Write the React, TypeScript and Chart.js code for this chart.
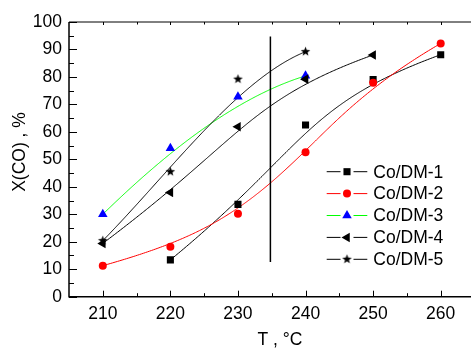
import React, { useEffect, useRef } from "react";
import { Chart, registerables } from "chart.js";
import { drawPoint } from "chart.js/helpers";

Chart.register(...registerables);

// Axis ticks
const X_TICKS = [210, 220, 230, 240, 250, 260];
const X_MINOR = [215, 225, 235, 245, 255];
const Y_TICKS = [0, 10, 20, 30, 40, 50, 60, 70, 80, 90, 100];
const Y_MINOR = [5, 15, 25, 35, 45, 55, 65, 75, 85, 95];

// Series: temperature (°C) and CO conversion (%)
const SERIES_NAMES = ["Co/DM-1", "Co/DM-2", "Co/DM-3", "Co/DM-4", "Co/DM-5"];
const T_DM1 = [220, 230, 240, 250, 260];
const X_DM1 = [13.4, 33.6, 62.5, 79.1, 88.1];
const T_DM2 = [210, 220, 230, 240, 250, 260];
const X_DM2 = [11.3, 18.2, 30.2, 52.6, 77.9, 92.2];
const T_DM3 = [210, 220, 230, 240];
const X_DM3 = [30.0, 54.0, 72.8, 80.4];
const T_DM4 = [210, 220, 230, 240, 250];
const X_DM4 = [19.4, 37.9, 61.9, 79.2, 88.0];
const T_DM5 = [210, 220, 230, 240];
const X_DM5 = [20.4, 45.5, 79.2, 89.2];

// Vertical marker line
const CUT_T = [234.8, 234.8];
const CUT_X = [12.6, 94.7];

const FONT = "'Liberation Sans', Arial, Helvetica, sans-serif";
const FONT_SIZE = 17.5;

const LINE_COLORS = ["#000000", "#ff0000", "#00ff00", "#000000", "#000000"];
const MARK_COLORS = ["#000000", "#ff0000", "#0000ff", "#000000", "#000000"];

function makeStar(): HTMLCanvasElement {
  const c = document.createElement("canvas");
  c.width = 11;
  c.height = 11;
  const g = c.getContext("2d")!;
  g.beginPath();
  for (let i = 0; i < 10; i++) {
    const a = -Math.PI / 2 + (i * Math.PI) / 5;
    const r = i % 2 ? 2.1 : 5;
    g.lineTo(5.5 + r * Math.cos(a), 5.5 + r * Math.sin(a));
  }
  g.closePath();
  g.fillStyle = "#000";
  g.fill();
  return c;
}

type P = { x: number; y: number };

// Clamped cubic B-spline using the points as control polygon
function bspline(pts: P[], samples = 240): P[] {
  const n = pts.length;
  const p = Math.min(3, n - 1);
  const m = n + p + 1;
  const knots: number[] = [];
  for (let i = 0; i < m; i++) {
    if (i <= p) knots.push(0);
    else if (i >= n) knots.push(1);
    else knots.push((i - p) / (n - p));
  }
  const out: P[] = [];
  for (let s = 0; s <= samples; s++) {
    const u = s / samples;
    let k = p;
    while (k < n - 1 && u >= knots[k + 1]) k++;
    const d: P[] = [];
    for (let j = 0; j <= p; j++) d.push({ ...pts[j + k - p] });
    for (let r = 1; r <= p; r++) {
      for (let j = p; j >= r; j--) {
        const den = knots[j + 1 + k - r] - knots[j + k - p];
        const a = den === 0 ? 0 : (u - knots[j + k - p]) / den;
        d[j] = { x: (1 - a) * d[j - 1].x + a * d[j].x, y: (1 - a) * d[j - 1].y + a * d[j].y };
      }
    }
    out.push(d[p]);
  }
  return out;
}

const zip = (xs: number[], ys: number[]) => xs.map((x, i) => ({ x, y: ys[i] }));

export default function App() {
  const ref = useRef<HTMLCanvasElement>(null);

  useEffect(() => {
    const star = makeStar();
    const styles: any[] = [
      { pointStyle: "rect", radius: 5, rotation: 0 },
      { pointStyle: "circle", radius: 4, rotation: 0 },
      { pointStyle: "triangle", radius: 5.5, rotation: 0 },
      { pointStyle: "triangle", radius: 5.5, rotation: -90 },
      { pointStyle: star, radius: 5, rotation: 0 },
    ];
    const series = [
      zip(T_DM1, X_DM1),
      zip(T_DM2, X_DM2),
      zip(T_DM3, X_DM3),
      zip(T_DM4, X_DM4),
      zip(T_DM5, X_DM5),
    ];

    const datasets: any[] = series.map((data, i) => ({
      label: SERIES_NAMES[i],
      data,
      showLine: false,
      pointStyle: styles[i].pointStyle,
      pointRadius: styles[i].radius,
      pointRotation: styles[i].rotation,
      pointBackgroundColor: MARK_COLORS[i],
      pointBorderWidth: 0,
      pointBorderColor: MARK_COLORS[i],
      order: 5 - i,
    }));
    datasets.push({
      label: "cut",
      data: zip(CUT_T, CUT_X),
      showLine: true,
      borderColor: "#000",
      borderWidth: 1.5,
      pointRadius: 0,
      order: 10,
    });

    const framePlugin = {
      id: "frame",
      beforeDatasetsDraw(chart: any) {
        const ctx = chart.ctx;
        const { left, right, top, bottom } = chart.chartArea;
        const xs = chart.scales.x;
        const ys = chart.scales.y;
        ctx.save();
        // smoothed curves
        for (let i = 0; i < SERIES_NAMES.length; i++) {
          const meta = chart.getDatasetMeta(i);
          const pts = meta.data.map((e: any) => ({ x: e.x, y: e.y }));
          const curve = bspline(pts);
          ctx.beginPath();
          curve.forEach((q, j) => (j ? ctx.lineTo(q.x, q.y) : ctx.moveTo(q.x, q.y)));
          ctx.strokeStyle = LINE_COLORS[i];
          ctx.lineWidth = 1;
          ctx.stroke();
        }
        // frame
        ctx.strokeStyle = "#000";
        ctx.lineWidth = 1.5;
        ctx.beginPath();
        ctx.moveTo(left, top);
        ctx.lineTo(left, bottom);
        ctx.lineTo(right, bottom);
        ctx.lineTo(right, top);
        ctx.stroke();
        ctx.lineWidth = 1;
        ctx.beginPath();
        ctx.moveTo(left, top);
        ctx.lineTo(right, top);
        ctx.stroke();
        // ticks
        ctx.lineWidth = 1;
        ctx.beginPath();
        X_TICKS.forEach((v) => {
          const px = Math.round(xs.getPixelForValue(v)) + 0.5;
          ctx.moveTo(px, bottom);
          ctx.lineTo(px, bottom - 6);
          ctx.moveTo(px, top);
          ctx.lineTo(px, top + 3);
        });
        X_MINOR.forEach((v) => {
          const px = Math.round(xs.getPixelForValue(v)) + 0.5;
          ctx.moveTo(px, bottom);
          ctx.lineTo(px, bottom - 3.5);
          ctx.moveTo(px, top);
          ctx.lineTo(px, top + 2.5);
        });
        Y_TICKS.forEach((v) => {
          const py = Math.round(ys.getPixelForValue(v)) + 0.5;
          ctx.moveTo(left, py);
          ctx.lineTo(left + 8, py);
        });
        Y_MINOR.forEach((v) => {
          const py = Math.round(ys.getPixelForValue(v)) + 0.5;
          ctx.moveTo(left, py);
          ctx.lineTo(left + 5, py);
        });
        ctx.stroke();
        ctx.restore();
      },
      afterDraw(chart: any) {
        const ctx = chart.ctx;
        ctx.save();
        ctx.fillStyle = "#000";
        ctx.font = `${FONT_SIZE}px ${FONT}`;
        // axis titles
        ctx.textAlign = "center";
        ctx.textBaseline = "middle";
        ctx.fillText("T , °C", 280, 340);
        ctx.translate(20, 152);
        ctx.rotate(-Math.PI / 2);
        ctx.fillText("X(CO) , %", 0, 0);
        ctx.setTransform(1, 0, 0, 1, 0, 0);
        // legend
        const rowY0 = 171.7;
        const rowDy = 21.9;
        for (let i = 0; i < SERIES_NAMES.length; i++) {
          const y = rowY0 + i * rowDy;
          ctx.strokeStyle = LINE_COLORS[i];
          ctx.lineWidth = 1;
          ctx.beginPath();
          ctx.moveTo(326.7, y);
          ctx.lineTo(340.5, y);
          ctx.moveTo(353.5, y);
          ctx.lineTo(367.3, y);
          ctx.stroke();
          ctx.fillStyle = MARK_COLORS[i];
          drawPoint(ctx, { pointStyle: styles[i].pointStyle, rotation: styles[i].rotation, radius: styles[i].radius, borderWidth: 0 } as any, 347, y);
          ctx.fillStyle = "#000";
          ctx.textAlign = "left";
          ctx.textBaseline = "middle";
          ctx.fillText(SERIES_NAMES[i], 373.3, y + 1);
        }
        ctx.restore();
      },
    };

    const chart = new Chart(ref.current!, {
      type: "scatter",
      data: { datasets },
      options: {
        responsive: false,
        maintainAspectRatio: false,
        devicePixelRatio: 1,
        animation: false,
        layout: { padding: { top: 22, left: 0, right: 2.7, bottom: 0 } },
        plugins: { legend: { display: false }, tooltip: { enabled: false } },
        scales: {
          x: {
            type: "linear",
            position: "bottom",
            min: 205,
            max: 265,
            grid: { display: false, drawTicks: false },
            border: { display: false },
            ticks: {
              color: "#000",
              font: { family: FONT, size: FONT_SIZE },
              padding: 7,
              maxRotation: 0,
              autoSkip: false,
              callback: (v: any) => String(v),
            },
            afterBuildTicks: (s: any) => {
              s.ticks = X_TICKS.map((v) => ({ value: v }));
            },
            afterFit: (s: any) => {
              s.height = 52.3;
              s.paddingLeft = 0;
              s.paddingRight = 0;
            },
          },
          y: {
            type: "linear",
            min: 0,
            max: 100,
            grid: { display: false, drawTicks: false },
            border: { display: false },
            ticks: {
              color: "#000",
              font: { family: FONT, size: FONT_SIZE },
              padding: 7,
              autoSkip: false,
              callback: (v: any) => String(v),
            },
            afterBuildTicks: (s: any) => {
              s.ticks = Y_TICKS.map((v) => ({ value: v }));
            },
            afterFit: (s: any) => {
              s.width = 69;
              s.paddingTop = 0;
              s.paddingBottom = 0;
            },
          },
        },
      } as any,
      plugins: [framePlugin],
    });
    return () => chart.destroy();
  }, []);

  return (
    <div
      style={{
        position: "fixed",
        left: 0,
        top: 0,
        width: 471,
        height: 349,
        overflow: "hidden",
        background: "#fff",
      }}
    >
      <canvas ref={ref} width={480} height={349} style={{ display: "block" }} />
    </div>
  );
}
